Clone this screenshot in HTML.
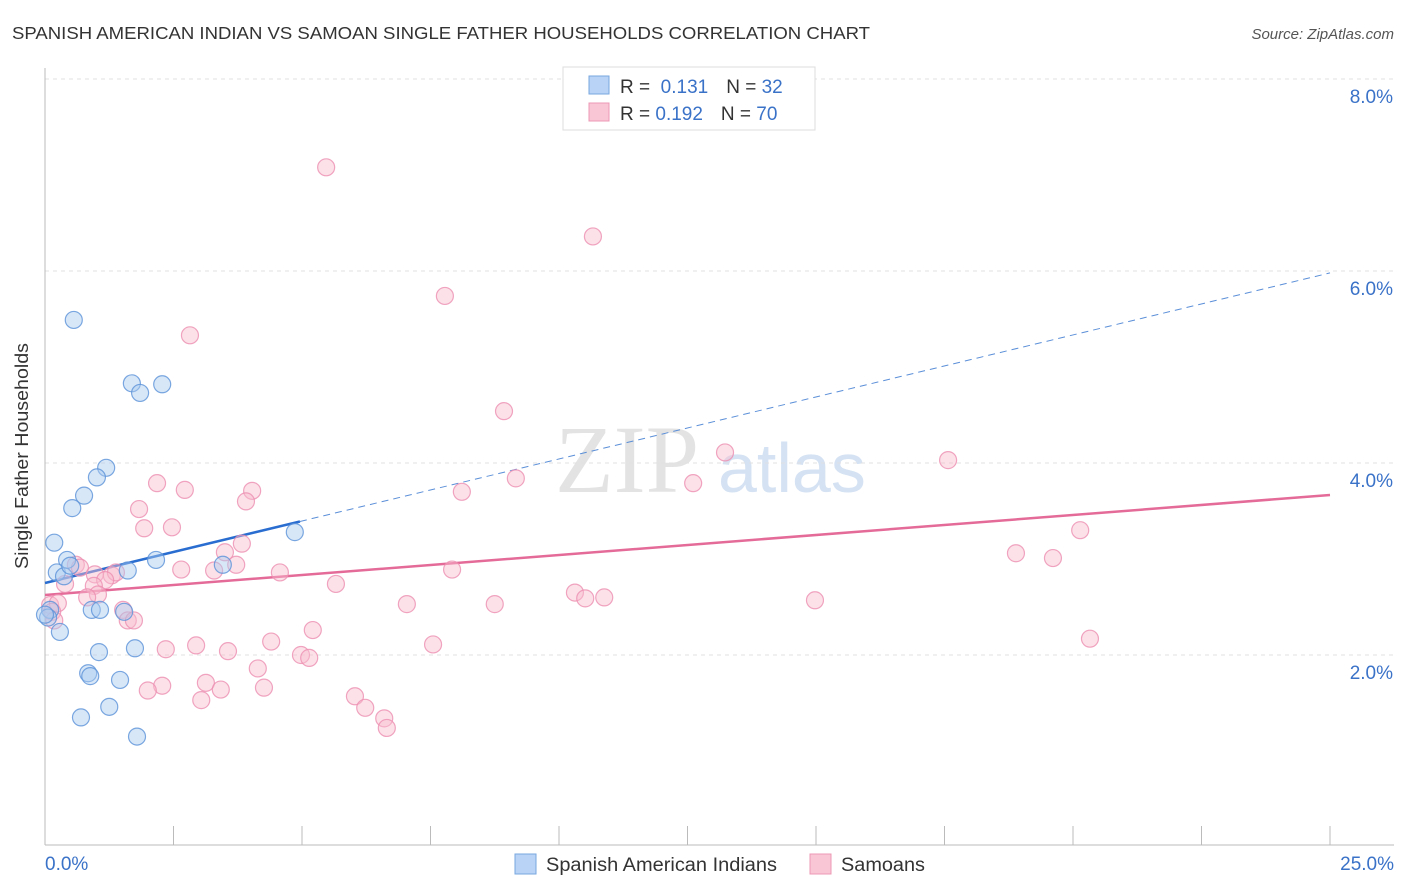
<!DOCTYPE html>
<html><head><meta charset="utf-8"><style>
body{margin:0;background:#fff;font-family:"Liberation Sans",sans-serif;}
svg{display:block}
</style></head><body>
<svg id="c" width="1406" height="892" xmlns="http://www.w3.org/2000/svg">
<text x="12" y="39" font-size="17.5" fill="#333" textLength="858" lengthAdjust="spacingAndGlyphs">SPANISH AMERICAN INDIAN VS SAMOAN SINGLE FATHER HOUSEHOLDS CORRELATION CHART</text>
<text x="1394" y="39" font-size="15" fill="#555" font-style="italic" text-anchor="end">Source: ZipAtlas.com</text>
<g>
<text x="555" y="492" font-size="96" font-family="Liberation Serif,serif" fill="#d8d8d8" opacity="0.7">ZIP</text>
<text x="718" y="492" font-size="70" fill="#c4d7ee" opacity="0.7">atlas</text>
</g>
<g id="grid"></g><g id="axes"></g><g id="trend"></g><g id="pts"></g>
<text x="28" y="456" font-size="18" fill="#333" text-anchor="middle" textLength="226" lengthAdjust="spacingAndGlyphs" transform="rotate(-90 28 456)">Single Father Households</text>
<g>
<rect x="563" y="67" width="252" height="63" fill="#fff" stroke="#ddd"/>
<rect x="589" y="76" width="20" height="18" fill="#b8d3f5" stroke="#7aa7e0"/>
<rect x="589" y="103" width="20" height="18" fill="#f9c6d6" stroke="#ec98b4"/>
<text x="620" y="93" font-size="19" fill="#333">R = <tspan fill="#3a72c8">&#160;0.131</tspan><tspan dx="18">N = </tspan><tspan fill="#3a72c8"> 32</tspan></text>
<text x="620" y="120" font-size="19" fill="#333">R = <tspan fill="#3a72c8">0.192</tspan><tspan dx="18">N = </tspan><tspan fill="#3a72c8">70</tspan></text>
</g>
<g>
<rect x="515" y="854" width="21" height="20" fill="#b8d3f5" stroke="#7aa7e0"/>
<text x="546" y="871" font-size="19" fill="#333" textLength="231" lengthAdjust="spacingAndGlyphs">Spanish American Indians</text>
<rect x="810" y="854" width="21" height="20" fill="#f9c6d6" stroke="#ec98b4"/>
<text x="841" y="871" font-size="19" fill="#333" textLength="84" lengthAdjust="spacingAndGlyphs">Samoans</text>
</g>
</svg>
<script>
const yTicks=[2,4,6,8];
const yTickLabels=["2.0%","4.0%","6.0%","8.0%"];
const xLabels=["0.0%","25.0%"];
const blueX=[0.56,1.69,1.85,2.28,1.19,1.01,0.76,0.53,0.18,0.43,0.23,0.37,0.49,1.61,2.16,3.46,4.86,0.10,0.06,0.91,1.07,1.54,0.29,1.05,1.75,0.84,0.88,1.46,1.25,0.70,1.79,0.0];
const blueY=[5.49,4.83,4.73,4.82,3.95,3.85,3.66,3.53,3.17,2.99,2.86,2.82,2.93,2.88,2.99,2.94,3.28,2.47,2.39,2.47,2.47,2.45,2.24,2.03,2.07,1.81,1.78,1.74,1.46,1.35,1.15,2.42];
const pinkX=[5.47,10.66,7.78,2.82,8.93,13.23,17.57,2.18,2.72,4.03,3.91,8.11,9.16,12.61,1.83,1.93,2.47,20.14,3.83,3.50,18.89,19.61,0.60,0.68,0.97,2.65,3.29,3.72,4.57,7.92,1.30,1.38,1.17,0.95,1.03,0.82,5.66,10.31,10.51,10.88,0.39,0.10,0.25,0.14,0.18,1.52,1.61,1.73,7.04,8.75,14.98,4.40,5.21,2.94,2.35,3.56,4.98,5.14,7.55,4.14,20.33,3.13,2.28,2.00,3.42,4.26,3.04,6.03,6.23,6.60,6.65];
const pinkY=[7.08,6.36,5.74,5.33,4.54,4.11,4.03,3.79,3.72,3.71,3.60,3.70,3.84,3.79,3.52,3.32,3.33,3.30,3.16,3.07,3.06,3.01,2.94,2.91,2.84,2.89,2.88,2.94,2.86,2.89,2.83,2.86,2.78,2.72,2.63,2.60,2.74,2.65,2.59,2.60,2.74,2.52,2.54,2.45,2.36,2.47,2.36,2.36,2.53,2.53,2.57,2.14,2.26,2.10,2.06,2.04,2.00,1.97,2.11,1.86,2.17,1.71,1.68,1.63,1.64,1.66,1.53,1.57,1.45,1.34,1.24];
const blueTrend=[2.75,5.98]; const blueSolidEnd=4.96;
const pinkTrend=[2.625,3.667];
const NS="http://www.w3.org/2000/svg";
const X=v=>45+v/25*1285, Y=v=>847-v*96;
function mk(p,t,a){const e=document.createElementNS(NS,t);for(const k in a)e.setAttribute(k,a[k]);document.getElementById(p).appendChild(e);return e;}
yTicks.forEach((t,i)=>{
 let l=mk('grid','line',{x1:45,x2:1394,y1:Y(t),y2:Y(t),stroke:'#e0e0e0','stroke-dasharray':'4 4'});
 
 
 let tx=mk('axes','text',{x:1393,y:Y(t)+24,'font-size':19,fill:'#3a72c8','text-anchor':'end'});tx.textContent=yTickLabels[i];
 
 
});
let ax=mk('axes','line',{x1:45,x2:1394,y1:845,y2:845,stroke:'#bbb'});


let ay=mk('axes','line',{x1:45,x2:45,y1:68,y2:845,stroke:'#bbb'});


for(let i=1;i<=10;i++){let t=mk('axes','line',{x1:X(i*2.5),x2:X(i*2.5),y1:826,y2:845,stroke:'#bbb'});
 
 }
[[0,'start',45],[25,'end',1394]].forEach((d,i)=>{let t=mk('axes','text',{x:d[2],y:870,'font-size':19,fill:'#3a72c8','text-anchor':d[1]});t.textContent=xLabels[i];
 
 });
function dot(x,y,f,s,n){let c=mk('pts','circle',{cx:X(x),cy:Y(y),r:8.5,fill:f,'fill-opacity':0.45,stroke:s,'stroke-width':1.2,'stroke-opacity':0.8});
 
 }
pinkX.forEach((x,i)=>dot(x,pinkY[i],'#f9bccf','#ec8fb0','samoan-point'));
blueX.forEach((x,i)=>dot(x,blueY[i],'#a9c9f0','#5b92d8','spanish-point'));
const bAt=v=>blueTrend[0]+(blueTrend[1]-blueTrend[0])*v/25;
let b1=mk('trend','line',{x1:X(0),y1:Y(bAt(0)),x2:X(blueSolidEnd),y2:Y(bAt(blueSolidEnd)),stroke:'#2a6dd0','stroke-width':2.5});


let b2=mk('trend','line',{x1:X(blueSolidEnd),y1:Y(bAt(blueSolidEnd)),x2:X(25),y2:Y(bAt(25)),stroke:'#5b8fd8','stroke-width':1,'stroke-dasharray':'7 5'});


let p1=mk('trend','line',{x1:X(0),y1:Y(pinkTrend[0]),x2:X(25),y2:Y(pinkTrend[1]),stroke:'#e46a98','stroke-width':2.5});


</script>
</body></html>
